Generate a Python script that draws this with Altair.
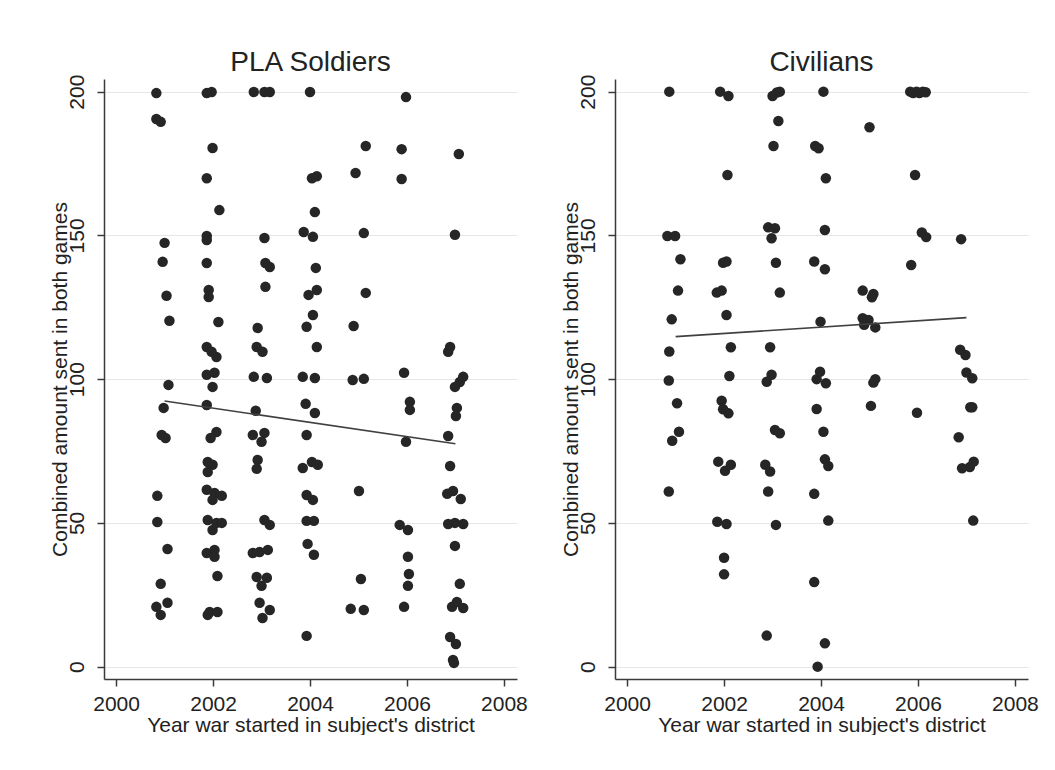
import altair as alt
import pandas as pd

FONT = "Liberation Sans"

# ---- PLA Soldiers (jittered year, combined amount) ----
pla_year = [
    2000.83, 2000.83, 2000.92, 2001.00, 2000.96, 2001.04, 2001.10, 2001.08, 2000.98,
    2000.94, 2001.02, 2000.85, 2000.85, 2001.06, 2000.92, 2000.83, 2001.06, 2000.92,
    2001.87, 2001.97, 2001.99, 2001.87, 2002.13, 2001.87, 2001.87, 2001.87, 2001.91,
    2001.91, 2002.11, 2001.87, 2001.97, 2002.07, 2001.87, 2002.03, 2001.99, 2001.87,
    2002.07, 2001.95, 2001.89, 2001.99, 2001.89, 2001.87, 2002.03, 2002.18, 2001.99,
    2001.89, 2002.07, 2002.18, 2001.99, 2001.87, 2002.03, 2002.03, 2002.09, 2001.93,
    2002.09, 2001.89,
    2002.84, 2003.06, 2003.17, 2003.06, 2003.08, 2003.17, 2003.08, 2002.92, 2002.90,
    2003.02, 2002.84, 2003.11, 2002.88, 2002.82, 2003.06, 2003.00, 2002.92, 2002.90,
    2003.06, 2003.17, 2002.82, 2002.96, 2003.13, 2002.90, 2003.11, 2003.00, 2002.96,
    2003.17, 2003.02,
    2004.00, 2004.04, 2004.14, 2004.10, 2003.87, 2004.06, 2004.12, 2003.97, 2004.14,
    2004.06, 2003.93, 2004.14, 2003.85, 2004.10, 2003.91, 2004.10, 2003.93, 2003.85,
    2004.04, 2004.16, 2003.93, 2004.06, 2003.93, 2004.08, 2003.95, 2004.08, 2003.93,
    2005.15, 2004.94, 2005.11, 2005.15, 2004.90, 2004.88, 2005.11, 2005.01, 2005.05,
    2004.84, 2005.11,
    2005.98, 2005.89, 2005.89, 2005.94, 2006.06, 2006.06, 2005.98, 2005.85, 2006.02,
    2006.02, 2006.04, 2006.02, 2005.94,
    2007.07, 2006.99, 2006.89, 2006.85, 2007.16, 2007.09, 2006.99, 2007.03, 2007.01,
    2006.85, 2006.89, 2006.83, 2006.95, 2007.11, 2006.85, 2006.99, 2007.16, 2006.99,
    2007.09, 2006.93, 2007.03, 2007.16, 2006.89, 2007.01, 2006.95, 2006.97,
]
pla_amount = [
    199.5, 190.5, 189.5, 147.4, 140.8, 129.0, 120.3, 98.0, 90.0,
    80.6, 79.5, 59.4, 50.3, 40.9, 28.8, 20.8, 22.2, 18.0,
    199.5, 199.9, 180.4, 169.9, 158.8, 149.8, 148.4, 140.4, 131.0,
    128.6, 119.9, 111.2, 109.5, 107.7, 101.5, 102.2, 97.3, 91.0,
    81.6, 79.5, 71.2, 70.2, 67.7, 61.5, 60.4, 59.4, 58.0,
    51.0, 50.0, 50.0, 47.5, 39.5, 40.6, 38.2, 31.5, 19.0,
    19.0, 18.0,
    199.9, 199.9, 199.9, 149.1, 140.4, 139.0, 132.1, 117.8, 111.2,
    109.5, 100.8, 100.4, 89.0, 80.6, 81.3, 78.2, 71.9, 68.8,
    51.0, 49.3, 39.5, 39.9, 40.6, 31.2, 30.9, 28.1, 22.2,
    19.7, 16.9,
    199.9, 169.9, 170.6, 158.1, 151.2, 149.5, 138.7, 129.3, 131.0,
    122.3, 118.2, 111.2, 100.8, 100.4, 91.4, 88.2, 80.6, 69.1,
    71.2, 70.2, 59.7, 58.0, 50.7, 50.7, 42.7, 38.9, 10.7,
    181.1, 171.7, 150.8, 130.0, 118.5, 99.7, 100.1, 61.1, 30.5,
    20.1, 19.7,
    198.1, 180.0, 169.6, 102.2, 92.1, 89.3, 78.2, 49.3, 47.5,
    38.2, 32.2, 28.1, 20.8,
    178.3, 150.2, 111.2, 109.5, 100.8, 99.0, 97.3, 90.0, 87.2,
    80.2, 69.8, 60.1, 61.1, 58.3, 49.6, 50.0, 49.6, 42.0,
    28.8, 20.8, 22.5, 20.4, 10.3, 7.9, 2.3, 1.3,
]
pla_fit_year = [2001.0, 2007.0]
pla_fit_amount = [92.4, 77.5]

# ---- Civilians ----
civ_year = [
    2000.87, 2000.83, 2000.99, 2001.10, 2001.05, 2000.92, 2000.87, 2000.86, 2001.03,
    2001.07, 2000.93, 2000.86,
    2001.92, 2002.09, 2002.07, 2001.98, 2002.05, 2001.85, 2001.95, 2002.05, 2002.14,
    2002.11, 2001.95, 2001.98, 2002.09, 2001.88, 2002.14, 2002.02, 2001.86, 2002.05,
    2002.00, 2002.00,
    2003.00, 2003.09, 2003.15, 2003.12, 2003.02, 2002.91, 2003.05, 2002.98, 2003.07,
    2003.15, 2002.95, 2002.88, 2002.98, 2003.05, 2003.15, 2002.85, 2002.95, 2002.91,
    2003.07, 2002.88,
    2004.05, 2003.88, 2003.95, 2004.10, 2004.08, 2003.86, 2004.08, 2003.99, 2003.91,
    2004.10, 2003.98, 2003.91, 2004.05, 2004.08, 2004.15, 2003.86, 2004.15, 2003.86,
    2004.08, 2003.93,
    2005.00, 2004.86, 2005.08, 2005.05, 2004.86, 2004.98, 2004.89, 2005.12, 2005.12,
    2005.08, 2005.03,
    2005.84, 2005.90, 2005.97, 2006.03, 2006.10, 2006.16, 2005.94, 2006.08, 2006.17,
    2005.86, 2005.98,
    2006.89, 2006.87, 2006.98, 2007.00, 2007.12, 2007.08, 2007.12, 2006.84, 2006.91,
    2007.07, 2007.15, 2007.14,
]
civ_amount = [
    200.0, 149.8, 149.8, 141.7, 130.8, 120.8, 109.6, 99.5, 91.6,
    81.7, 78.6, 60.9,
    200.0, 198.5, 171.0, 140.5, 140.9, 130.1, 130.8, 122.3, 111.1,
    101.1, 92.5, 89.5, 88.1, 71.3, 70.2, 68.1, 50.4, 49.6,
    37.9, 32.1,
    198.5, 199.7, 200.0, 189.8, 181.1, 152.8, 152.5, 149.0, 140.5,
    130.1, 111.1, 99.1, 101.5, 82.3, 81.2, 70.2, 67.9, 60.9,
    49.3, 10.8,
    200.0, 181.1, 180.3, 169.9, 151.9, 140.9, 138.2, 120.0, 100.0,
    98.6, 102.6, 89.6, 81.7, 72.1, 69.8, 60.1, 50.8, 29.4,
    8.1, 0.0,
    187.6, 130.8, 129.6, 128.5, 121.2, 120.6, 118.9, 118.0, 100.0,
    98.8, 90.7,
    200.0, 199.5, 200.0, 199.5, 200.0, 199.8, 171.0, 151.0, 149.4,
    139.7, 88.3,
    148.7, 110.2, 108.4, 102.3, 100.3, 90.2, 90.2, 79.8, 69.0,
    69.4, 71.3, 50.8,
]
civ_fit_year = [2001.0, 2007.0]
civ_fit_amount = [114.8, 121.4]

x_ticks = [2000, 2002, 2004, 2006, 2008]
y_ticks = [0, 50, 100, 150, 200]


def panel(title, years, amounts, fit_years, fit_amounts):
    pts = pd.DataFrame({"year": years, "amount": amounts})
    fit = pd.DataFrame({"year": fit_years, "amount": fit_amounts})
    xs = alt.Scale(domain=[1999.75, 2008.27], nice=False, zero=False)
    ys = alt.Scale(domain=[-4.3, 204.4], nice=False, zero=False)
    x = alt.X(
        "year:Q",
        scale=xs,
        axis=alt.Axis(
            values=x_ticks,
            format="d",
            title="Year war started in subject's district",
            grid=False,
            tickSize=7,
            labelPadding=7,
            titlePadding=0,
        ),
    )
    y = alt.Y(
        "amount:Q",
        scale=ys,
        axis=alt.Axis(
            values=y_ticks,
            title="Combined amount sent in both games",
            grid=True,
            tickSize=7,
            labelAngle=270,
            labelAlign="center",
            labelBaseline="bottom",
            labelPadding=10,
            titlePadding=-4,
        ),
    )
    points = alt.Chart(pts).mark_circle(size=110, color="#262626", opacity=1).encode(x=x, y=y)
    line = alt.Chart(fit).mark_line(color="#404040", strokeWidth=1.6).encode(
        x=alt.X("year:Q", scale=xs), y=alt.Y("amount:Q", scale=ys)
    )
    return alt.layer(points, line).properties(
        width=413,
        height=600,
        title=alt.TitleParams(
            title,
            fontSize=28,
            font=FONT,
            fontWeight="normal",
            color="#222222",
            anchor="middle",
            baseline="alphabetic",
            offset=2,
            dy=27,
        ),
    )


left = panel("PLA Soldiers", pla_year, pla_amount, pla_fit_year, pla_fit_amount)
right = panel("Civilians", civ_year, civ_amount, civ_fit_year, civ_fit_amount)

chart = (
    alt.hconcat(left, right, spacing=32)
    .properties(padding={"left": 49, "top": 49, "right": 0, "bottom": 0})
    .configure(background="white")
    .configure_view(stroke=None)
    .configure_axis(
        labelFont=FONT,
        titleFont=FONT,
        labelFontSize=21,
        titleFontSize=21,
        labelColor="#222222",
        titleColor="#222222",
        titleFontWeight="normal",
        domainColor="#3a3a3a",
        domainWidth=1.5,
        tickColor="#3a3a3a",
        tickWidth=1.5,
        gridColor="#e6e6e6",
        gridWidth=1,
    )
)

chart.save("out.html", embed_options={"renderer": "svg", "actions": False})
